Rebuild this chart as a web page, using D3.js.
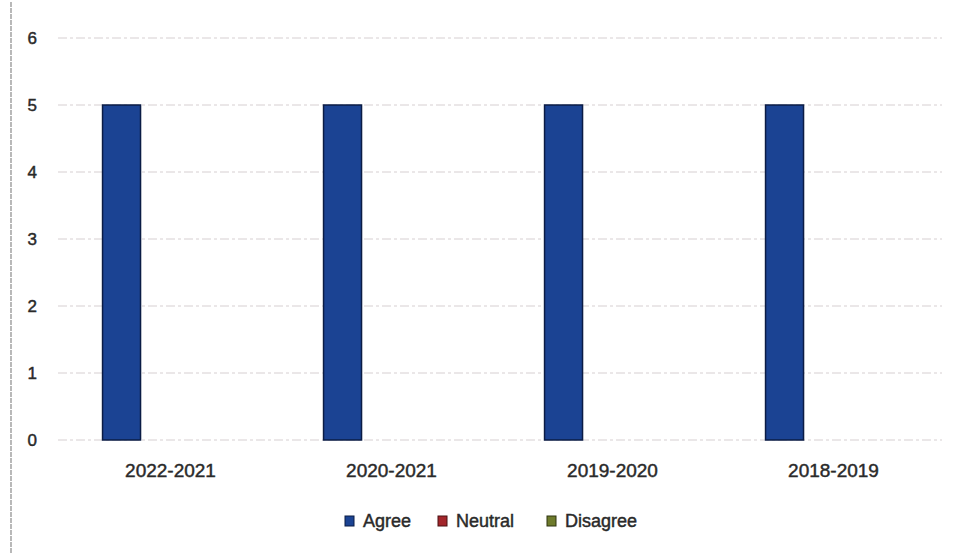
<!DOCTYPE html>
<html><head><meta charset="utf-8">
<script src="https://cdn.jsdelivr.net/npm/d3@7"></script>
<style>body{margin:0;background:#fff}svg{display:block}</style>
</head><body>
<svg id="c" width="957" height="553"></svg>
<script>
const categories = ["2022-2021", "2020-2021", "2019-2020", "2018-2019"];
const seriesNames = ["Agree", "Neutral", "Disagree"];
const agree = [5, 5, 5, 5];
const neutral = [0, 0, 0, 0];
const disagree = [0, 0, 0, 0];
const yTicks = [0, 1, 2, 3, 4, 5, 6];
const colors = ["#1b4393", "#a3262b", "#6e7b2c"];
const strokes = ["#0b1c45", "#4a1012", "#2e3510"];

const svg = d3.select("#c");
const font = "'Liberation Sans', Arial, sans-serif";
const x0 = d3.scaleBand().domain(categories).range([60, 944]).paddingInner(0.385).paddingOuter(0.1925);
const x1 = d3.scaleBand().domain(seriesNames).range([0, x0.bandwidth()]).paddingInner(0.224);
const y = d3.scaleLinear().domain([0, 6]).range([440, 38]);

// left border
svg.append("line").attr("x1", 11).attr("x2", 11).attr("y1", 2).attr("y2", 553)
  .attr("stroke", "#8a8a8a").attr("stroke-width", 1.2).attr("stroke-dasharray", "5 1");

// gridlines
svg.append("g").selectAll("line").data(yTicks).join("line")
  .attr("x1", 58).attr("x2", 942)
  .attr("y1", d => y(d)).attr("y2", d => y(d))
  .attr("stroke", "#d6cfd1").attr("stroke-width", 1).attr("stroke-dasharray", "9 3 3 3");

function textStyle(sel, size) {
  sel.attr("font-family", font).attr("font-size", size)
    .attr("fill", "#2a2a2a").attr("stroke", "#2a2a2a").attr("stroke-width", 0.45);
}

// y labels
svg.append("g").selectAll("text").data(yTicks).join("text")
  .attr("x", 37).attr("y", d => y(d)).attr("dy", "0.36em")
  .attr("text-anchor", "end").call(textStyle, 17).text(d => d);

// bars
const data = [agree, neutral, disagree];
const g = svg.append("g").selectAll("g").data(categories).join("g")
  .attr("transform", d => `translate(${x0(d)},0)`);
g.selectAll("rect").data((d, i) => seriesNames.map((s, j) => ({s, j, v: data[j][i]})))
  .join("rect")
  .attr("x", d => x1(d.s)).attr("width", x1.bandwidth())
  .attr("y", d => y(d.v)).attr("height", d => y(0) - y(d.v))
  .attr("fill", d => colors[d.j]).attr("stroke", d => d.v > 0 ? strokes[d.j] : "none")
  .attr("stroke-width", 1.5);

// x labels
svg.append("g").selectAll("text").data(categories).join("text")
  .attr("x", d => x0(d) + x0.bandwidth() / 2).attr("y", 477)
  .attr("text-anchor", "middle").call(textStyle, 19).text(d => d);

// legend
const legX = [345, 438, 547];
const leg = svg.append("g").selectAll("g").data(seriesNames).join("g")
  .attr("transform", (d, i) => `translate(${legX[i]},516)`);
leg.append("rect").attr("width", 9).attr("height", 10)
  .attr("fill", (d, i) => colors[i]).attr("stroke", (d, i) => strokes[i]).attr("stroke-width", 1);
leg.append("text").attr("x", 18).attr("y", 11).call(textStyle, 18).text(d => d);
</script>
</body></html>
